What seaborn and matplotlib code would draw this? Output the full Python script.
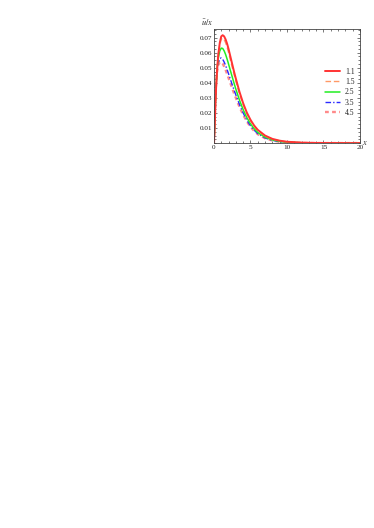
import matplotlib
matplotlib.use("Agg")
import matplotlib.pyplot as plt
import seaborn as sns
import pandas as pd
from matplotlib.ticker import MultipleLocator, FixedLocator

# values
x = [0, 0.1, 0.2, 0.3, 0.45, 0.6, 0.8, 1.0, 1.2, 1.4, 1.6, 1.8, 2.0, 2.25, 2.5,
     2.75, 3.0, 3.5, 4.0, 4.5, 5.0, 5.5, 6.0, 7.0, 8.0, 9.0, 10, 12, 14, 16, 18, 20]

y_11 = [0, 0.010, 0.025, 0.037, 0.050, 0.059, 0.0665, 0.0708, 0.0716, 0.0708, 0.0688,
        0.0660, 0.0625, 0.0575, 0.0525, 0.0475, 0.0428, 0.0340, 0.0265, 0.0203, 0.0155,
        0.0117, 0.0088, 0.0050, 0.0028, 0.0016, 0.0009, 0.0003, 0.0001, 0.00004, 0.00001, 0]
y_15 = [0, 0.010, 0.025, 0.037, 0.049, 0.058, 0.0650, 0.0690, 0.0696, 0.0687, 0.0666,
        0.0637, 0.0602, 0.0553, 0.0504, 0.0456, 0.0410, 0.0325, 0.0253, 0.0193, 0.0147,
        0.0111, 0.0083, 0.0047, 0.0026, 0.0015, 0.0008, 0.0003, 0.0001, 0.00003, 0.00001, 0]
y_25 = [0, 0.011, 0.027, 0.038, 0.050, 0.0565, 0.0612, 0.0630, 0.0628, 0.0612, 0.0588,
        0.0558, 0.0525, 0.0482, 0.0440, 0.0398, 0.0358, 0.0285, 0.0222, 0.0170, 0.0128,
        0.0096, 0.0071, 0.0039, 0.0021, 0.0011, 0.0006, 0.0002, 0.00005, 0, 0, 0]
y_35 = [0, 0.013, 0.029, 0.039, 0.049, 0.0535, 0.0562, 0.0565, 0.0556, 0.0538, 0.0515,
        0.0488, 0.0460, 0.0424, 0.0388, 0.0353, 0.0320, 0.0256, 0.0200, 0.0153, 0.0115,
        0.0086, 0.0063, 0.0034, 0.0018, 0.0009, 0.0005, 0.0001, 0, 0, 0, 0]
y_45 = [0, 0.014, 0.030, 0.040, 0.048, 0.0518, 0.0538, 0.0538, 0.0527, 0.0508, 0.0485,
        0.0459, 0.0432, 0.0398, 0.0364, 0.0331, 0.0300, 0.0240, 0.0188, 0.0144, 0.0108,
        0.0081, 0.0059, 0.0032, 0.0017, 0.0009, 0.0004, 0.0001, 0, 0, 0, 0]

labels = ["1.1", "1.5", "2.5", "3.5", "4.5"]
series = [y_11, y_15, y_25, y_35, y_45]

rows = []
for lab, ys in zip(labels, series):
    for xv, yv in zip(x, ys):
        rows.append({"x": xv, "y": yv, "k": lab})
df = pd.DataFrame(rows)

sns.set_style("ticks")
plt.rcParams["font.family"] = ["Liberation Serif", "DejaVu Serif"]
plt.rcParams["mathtext.fontset"] = "stix"

colors = {"1.1": "#ff3333", "1.5": "#ff9966", "2.5": "#22ee22",
          "3.5": "#2a2aff", "4.5": "#ff8a8a"}
dashes = {"1.1": "", "1.5": (4, 2), "2.5": "", "3.5": (4, 1.5, 1, 1.5), "4.5": (1.6, 1.4)}
widths = {"1.1": 1.4, "1.5": 1.0, "2.5": 1.1, "3.5": 1.0, "4.5": 1.7}

fig = plt.figure(figsize=(3.74, 5.28), dpi=100)
ax = fig.add_axes([0.572, 0.729, 0.3906, 0.2155])

sns.lineplot(data=df, x="x", y="y", hue="k", style="k", palette=colors,
             dashes=dashes, hue_order=labels[::-1], style_order=labels[::-1],
             ax=ax, legend=False)

for line, lab in zip(ax.lines, labels[::-1]):
    line.set_linewidth(widths[lab])

ax.set_xlim(0, 20)
ax.set_ylim(0, 0.0755)
ax.xaxis.set_major_locator(MultipleLocator(5))
ax.xaxis.set_minor_locator(MultipleLocator(1))
ax.yaxis.set_major_locator(FixedLocator([0.01, 0.02, 0.03, 0.04, 0.05, 0.06, 0.07]))
ax.yaxis.set_minor_locator(MultipleLocator(0.0025))
ax.set_yticklabels(["0.01", "0.02", "0.03", "0.04", "0.05", "0.06", "0.07"])
ax.tick_params(which="both", direction="in", top=True, right=True,
               labelsize=5.2, pad=1.5, width=0.5, color="#444444")
ax.tick_params(which="major", length=2.5)
ax.tick_params(which="minor", length=1.3)
for s in ax.spines.values():
    s.set_linewidth(0.6)
    s.set_color("#444444")

ax.set_xlabel("")
ax.set_ylabel("")
ax.text(-0.005, 1.015, r"$\bar{u}/x$", transform=ax.transAxes, fontsize=6,
        ha="right", va="bottom")
ax.text(1.015, 0.0, r"$x$", transform=ax.transAxes, fontsize=6,
        ha="left", va="center")

handles = []
for l in labels:
    h = plt.Line2D([], [], color=colors[l], lw=widths[l])
    if dashes[l]:
        h.set_dashes(dashes[l])
    handles.append(h)
ax.legend(handles, labels, loc="upper right", bbox_to_anchor=(1.0, 0.71),
          frameon=False, fontsize=5.5, handlelength=2.0, handletextpad=0.6,
          labelspacing=0.3, borderaxespad=0.3)

plt.savefig("out.png", dpi=100)
plt.close()
